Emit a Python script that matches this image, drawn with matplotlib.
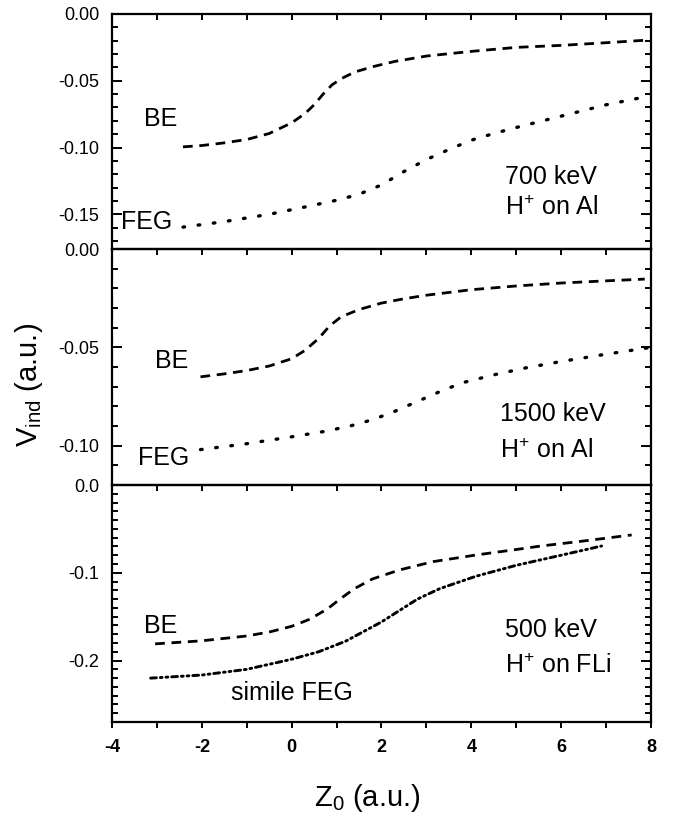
import matplotlib
matplotlib.use("Agg")
import matplotlib.pyplot as plt
from matplotlib.ticker import MultipleLocator, FormatStrFormatter

plt.rcParams["font.family"] = ["Liberation Sans", "DejaVu Sans"]
plt.rcParams["mathtext.default"] = "regular"
plt.rcParams["axes.unicode_minus"] = False
plt.rcParams["lines.scale_dashes"] = False

# --- data ---
# 700 keV H+ on Al
z_be_700 = [-2.42, -2.0, -1.5, -1.0, -0.5, 0.0, 0.3, 0.5, 0.7, 0.9, 1.1, 1.4, 1.8, 2.3,
            3.0, 4.0, 5.0, 6.0, 7.0, 7.95]
v_be_700 = [-0.0995, -0.0985, -0.0965, -0.094, -0.0895, -0.0815, -0.0745, -0.068, -0.060,
            -0.053, -0.0485, -0.0435, -0.0395, -0.0355, -0.0315, -0.028, -0.025, -0.0235,
            -0.0215, -0.0195]
z_feg_700 = [-2.42, -1.5, -0.5, 0.3, 1.0, 1.5, 2.0, 2.5, 3.0, 3.5, 4.0, 4.5, 5.0, 6.0, 7.0, 7.95]
v_feg_700 = [-0.1596, -0.1555, -0.150, -0.1445, -0.1395, -0.135, -0.128, -0.118, -0.109,
             -0.1015, -0.0945, -0.0895, -0.085, -0.0765, -0.068, -0.0615]

# 1500 keV H+ on Al
z_be_1500 = [-2.03, -1.5, -1.0, -0.5, 0.0, 0.3, 0.6, 0.85, 1.1, 1.5, 2.0, 2.5, 3.0, 4.0,
             5.0, 6.0, 7.0, 7.86]
v_be_1500 = [-0.065, -0.0635, -0.0618, -0.0595, -0.0558, -0.0515, -0.0455, -0.039, -0.0345,
             -0.0308, -0.0275, -0.0253, -0.0235, -0.0207, -0.0188, -0.0173, -0.0162, -0.0153]
z_feg_1500 = [-2.03, -1.0, 0.0, 0.75, 1.3, 1.8, 2.3, 2.8, 3.3, 3.8, 4.5, 5.2, 6.0, 7.0, 7.95]
v_feg_1500 = [-0.102, -0.099, -0.0955, -0.0927, -0.090, -0.0868, -0.0825, -0.0775, -0.0725,
              -0.068, -0.064, -0.0605, -0.0572, -0.0535, -0.0502]

# 500 keV H+ on FLi
z_be_500 = [-3.04, -2.0, -1.0, -0.5, 0.0, 0.4, 0.8, 1.1, 1.4, 1.8, 2.4, 3.15, 4.11, 5.0,
            5.55, 6.5, 7.57]
v_be_500 = [-0.181, -0.1775, -0.172, -0.1675, -0.161, -0.153, -0.141, -0.129, -0.118,
            -0.107, -0.0968, -0.0873, -0.0797, -0.0735, -0.0695, -0.0638, -0.0569]
z_feg_500 = [-3.14, -2.0, -1.0, 0.0, 0.6, 1.2, 1.6, 2.0, 2.4, 2.8, 3.3, 4.1, 5.0, 6.0, 6.9]
v_feg_500 = [-0.220, -0.2165, -0.210, -0.1985, -0.190, -0.178, -0.167, -0.156, -0.143,
             -0.130, -0.118, -0.104, -0.0915, -0.080, -0.0695]

ylims = [(-0.176, 0.0), (-0.12, 0.0), (-0.27, 0.0)]
ymajor = [0.05, 0.05, 0.1]
yfmt = ["%.2f", "%.2f", "%.1f"]

dash = (0, (7.0, 4.8))
dot = (0, (1.2, 9.8))
dashdotdot = (0, (4.2, 2.8, 1.3, 2.8, 1.3, 2.8))

fig = plt.figure(figsize=(6.78, 8.21), dpi=100)
left, right = 112 / 678, 651 / 678
tops = [14, 249, 485]
bots = [249, 485, 722]
axes = []
for t, b in zip(tops, bots):
    ax = fig.add_axes([left, 1 - b / 821, right - left, (b - t) / 821])
    axes.append(ax)

for i, ax in enumerate(axes):
    ax.set_xlim(-4, 8)
    ax.set_ylim(*ylims[i])
    ax.xaxis.set_major_locator(MultipleLocator(2))
    ax.xaxis.set_minor_locator(MultipleLocator(1))
    ax.yaxis.set_major_locator(MultipleLocator(ymajor[i]))
    ax.yaxis.set_minor_locator(MultipleLocator(0.01))
    ax.yaxis.set_major_formatter(FormatStrFormatter(yfmt[i]))
    for s in ax.spines.values():
        s.set_linewidth(1.6)
    ax.tick_params(axis="y", which="both", direction="in", left=True, right=True,
                   labelsize=13, pad=9, width=1.4)
    ax.tick_params(axis="y", which="major", length=7)
    ax.tick_params(axis="y", which="minor", length=4)
    last = i == 2
    ax.tick_params(axis="x", which="both", top=True, bottom=last, direction="in",
                   length=4, width=1.4, labelbottom=last, labelsize=13)
    ax.patch.set_alpha(0)

# bottom axis ticks point outward on the last panel
ax = axes[2]
ax.tick_params(axis="x", which="both", pad=12)
for t in ax.xaxis.get_major_ticks() + ax.xaxis.get_minor_ticks():
    t.tick1line.set_marker(3)
    t.tick1line.set_markersize(4.5)
for lab in ax.get_xticklabels():
    lab.set_fontweight("bold")

lw = 2.0
ax = axes[0]
ax.plot(z_be_700, v_be_700, color="black", lw=lw, ls=dash)
ax.plot(z_feg_700, v_feg_700, color="black", lw=2.4, ls=dot, dash_capstyle="round")
ax.text(-3.28, -0.0839, "BE", fontsize=18)
ax.text(-3.81, -0.1608, "FEG", fontsize=18)
ax.text(4.74, -0.1273, "700 keV", fontsize=18)
ax.text(4.74, -0.1509, "H$^{+}$ on Al", fontsize=18)

ax = axes[1]
ax.plot(z_be_1500, v_be_1500, color="black", lw=lw, ls=dash)
ax.plot(z_feg_1500, v_feg_1500, color="black", lw=2.4, ls=dot, dash_capstyle="round")
ax.text(-3.04, -0.0604, "BE", fontsize=18)
ax.text(-3.42, -0.1097, "FEG", fontsize=18)
ax.text(4.64, -0.0876, "1500 keV", fontsize=18)
ax.text(4.64, -0.1063, "H$^{+}$ on Al", fontsize=18)

ax = axes[2]
ax.plot(z_be_500, v_be_500, color="black", lw=lw, ls=dash)
ax.plot(z_feg_500, v_feg_500, color="black", lw=2.1, ls=dashdotdot, dash_capstyle="round")
ax.text(-3.28, -0.1689, "BE", fontsize=18)
ax.text(-1.36, -0.2448, "simile FEG", fontsize=18)
ax.text(4.74, -0.1727, "500 keV", fontsize=18)
ax.text(4.74, -0.2144, "H$^{+}$ on FLi", fontsize=18)

fig.text(0.043, 0.531, "V$_{ind}$ (a.u.)", rotation=90, fontsize=21,
         ha="center", va="center")
fig.text(367 / 678, 0.028, "Z$_{0}$ (a.u.)", fontsize=21, ha="center", va="center")

fig.savefig("out.png", dpi=100)
